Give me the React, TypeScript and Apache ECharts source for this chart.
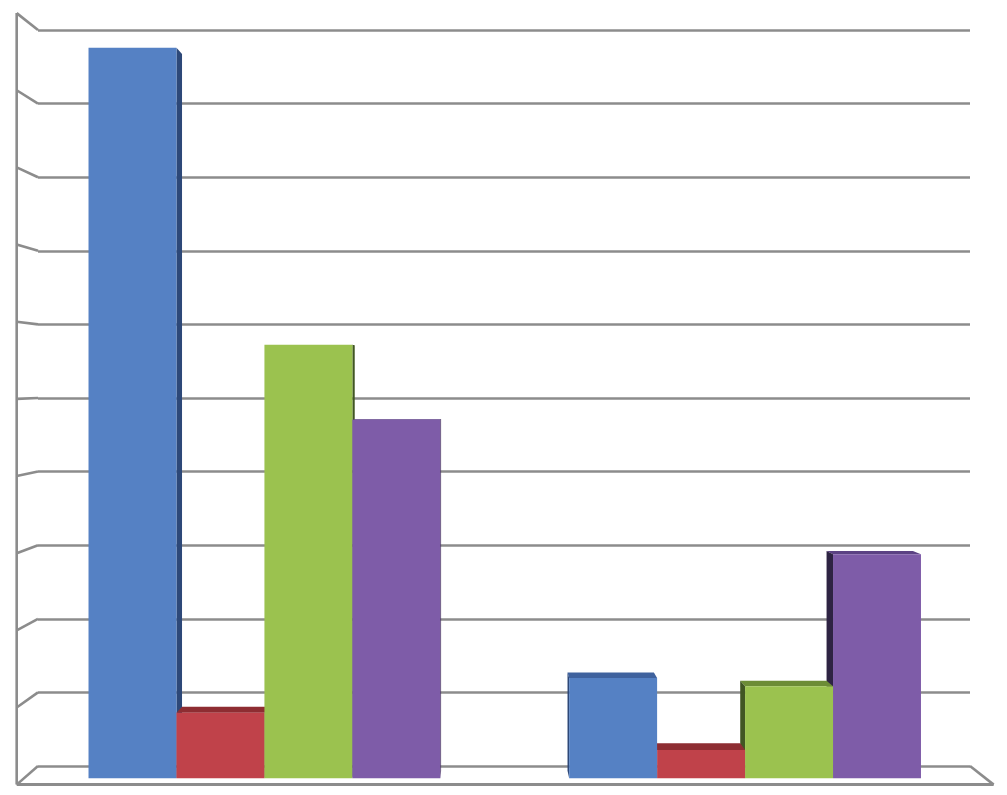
import React, { useEffect, useRef } from "react";
import * as echarts from "echarts";

// Data
const categories = ["Group 1", "Group 2"];
const series1 = [9.62, 1.32]; // blue
const series2 = [0.86, 0.37]; // red
const series3 = [5.71, 1.21]; // green
const series4 = [4.72, 2.95]; // purple
const yTicks = [0, 1, 2, 3, 4, 5, 6, 7, 8, 9, 10];

const frontColors = ["#5581C4", "#C0424A", "#9BC24F", "#7E5CA8"];
const topColors = ["#3F629E", "#8E2D32", "#6C8C36", "#5B4283"];
const sideColors = ["#2D4878", "#6E2026", "#415623", "#2E2343"];

// Perspective parameters
const VP = [480, 380];
const D_WALL = 0.046;
const D_FRONT = 0.016;
const D_BACK = 0.034;
const GAP = 0.268;
const GRID_COLOR = "#8C8C8C";

function proj(p: number[], d: number) {
  return [p[0] + (VP[0] - p[0]) * d, p[1] + (VP[1] - p[1]) * d];
}
function unproj(p: number[], d: number) {
  return [(p[0] - VP[0] * d) / (1 - d), (p[1] - VP[1] * d) / (1 - d)];
}

export default function App() {
  const ref = useRef<HTMLDivElement>(null);
  useEffect(() => {
    if (!ref.current) return;
    const chart = echarts.init(ref.current, undefined, { renderer: "svg" });
    const allSeries = [series1, series2, series3, series4];
    const barData: number[][] = [];
    categories.forEach((_, ci) => {
      const order = ci === 0 ? [0, 1, 2, 3] : [3, 2, 1, 0];
      order.forEach((s) => barData.push([ci, s, allSeries[s][ci]]));
    });

    const option: any = {
      animation: false,
      backgroundColor: "#ffffff",
      grid: [
        { left: 38, top: 30, width: 932, height: 736 },
        { left: 16.7, top: 13.1, width: 976.9, height: 771.5 },
      ],
      xAxis: [
        { type: "value", gridIndex: 0, min: 0, max: 1, show: false },
        { type: "category", gridIndex: 1, data: categories, show: false },
      ],
      yAxis: [
        {
          type: "value",
          gridIndex: 0,
          min: 0,
          max: 10,
          interval: 1,
          axisLine: { show: false },
          axisTick: { show: false },
          axisLabel: { show: false },
          splitLine: { show: true, lineStyle: { color: GRID_COLOR, width: 2.6 } },
        },
        { type: "value", gridIndex: 1, min: 0, max: 10, show: false },
      ],
      series: [
        {
          type: "custom",
          xAxisIndex: 0,
          yAxisIndex: 0,
          silent: true,
          z: 1,
          data: yTicks.map((v) => [0, v]),
          renderItem: (params: any, api: any) => {
            const v = api.value(1);
            const pb = api.coord([0, v]);
            const p0 = unproj(pb, D_WALL);
            const st = { stroke: GRID_COLOR, lineWidth: 2.6, fill: null };
            const children: any[] = [
              { type: "line", shape: { x1: pb[0], y1: pb[1], x2: p0[0], y2: p0[1] }, style: st },
            ];
            if (v === 0) {
              const topB = api.coord([0, yTicks[yTicks.length - 1]]);
              const top0 = unproj(topB, D_WALL);
              children.push({ type: "line", shape: { x1: p0[0], y1: top0[1], x2: p0[0], y2: p0[1] }, style: st });
              const rb = api.coord([1, 0]);
              const r0 = unproj(rb, D_WALL);
              children.push({ type: "line", shape: { x1: rb[0], y1: rb[1], x2: r0[0], y2: r0[1] }, style: st });
              children.push({ type: "line", shape: { x1: p0[0], y1: p0[1], x2: r0[0], y2: r0[1] }, style: { stroke: GRID_COLOR, lineWidth: 3 } });
            }
            return { type: "group", children };
          },
        },
        {
          type: "custom",
          xAxisIndex: 1,
          yAxisIndex: 1,
          silent: true,
          z: 2,
          encode: { x: 0, y: 2 },
          data: barData,
          renderItem: (params: any, api: any) => {
            const cat = api.value(0);
            const s = api.value(1);
            const v = api.value(2);
            const c = api.coord([cat, 0]);
            const t = api.coord([cat, v]);
            const band = api.size([1, 0])[0];
            const bw = (band * (1 - GAP)) / 4;
            const x1 = c[0] + (s - 2) * bw;
            const x2 = x1 + bw;
            const yB = c[1];
            const yT = t[1];
            const base = [[x1, yT], [x2, yT], [x2, yB], [x1, yB]];
            const F = base.map((p) => proj(p, D_FRONT));
            const B = base.map((p) => proj(p, D_BACK));
            const children: any[] = [];
            if (VP[1] < yT) {
              children.push({ type: "polygon", shape: { points: [F[0], F[1], B[1], B[0]] }, style: { fill: topColors[s] } });
            }
            if (VP[0] > x2) {
              children.push({ type: "polygon", shape: { points: [F[1], F[2], B[2], B[1]] }, style: { fill: sideColors[s] } });
            }
            if (VP[0] < x1) {
              children.push({ type: "polygon", shape: { points: [F[0], F[3], B[3], B[0]] }, style: { fill: sideColors[s] } });
            }
            children.push({ type: "polygon", shape: { points: F }, style: { fill: frontColors[s] } });
            return { type: "group", children };
          },
        },
      ],
    };
    chart.setOption(option);
    return () => chart.dispose();
  }, []);
  return (
    <div
      ref={ref}
      style={{ position: "absolute", left: 0, top: 0, width: 1007, height: 795 }}
    />
  );
}
